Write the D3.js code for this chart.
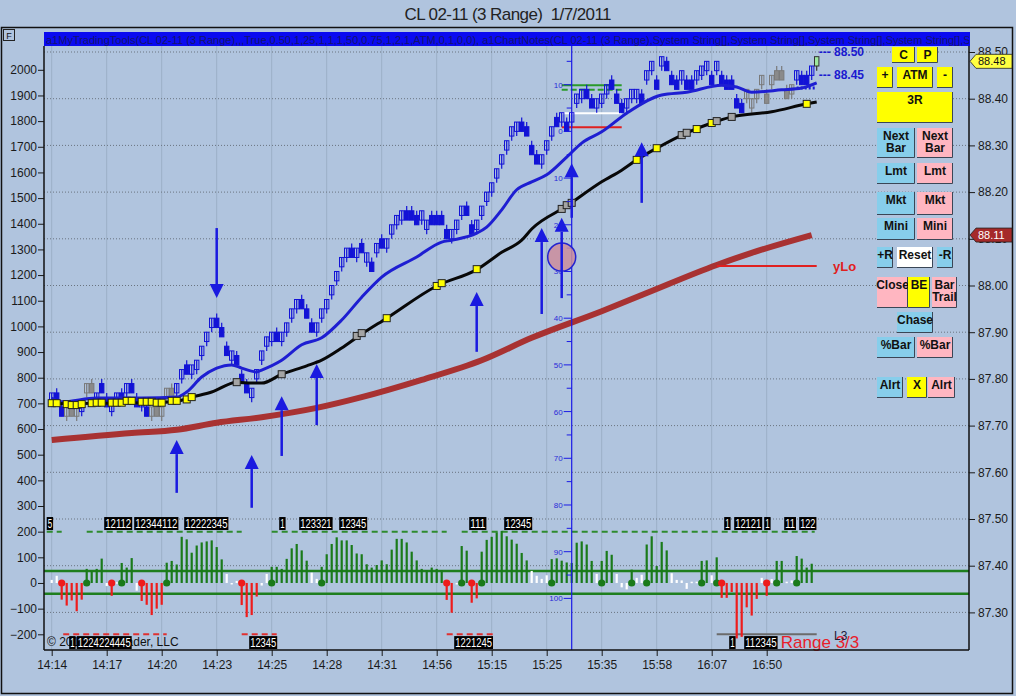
<!DOCTYPE html>
<html>
<head>
<meta charset="utf-8">
<script src="https://d3js.org/d3.v7.min.js"></script>
<style>
  body { margin: 0; background: #b0c4de; overflow: hidden; }
  svg { display: block; font-family: "Liberation Sans", Arial, sans-serif; }
</style>
</head>
<body>
<svg id="chart"></svg>
<script>
// ---- data ----
const timeLabels = ["14:14","14:17","14:20","14:23","14:25","14:28","14:31","14:56","15:15","15:25","15:35","15:58","16:07","16:50"];
const tickBars = [0,11,22,33,44,55,66,77,88,99,110,121,132,143];

// 3 range bars: high of each bar (low = high - 0.03)
const barHigh = [
  87.77,87.78,87.75,87.74,87.75,87.74,87.75,87.79,87.80,87.77,
  87.80,87.77,87.75,87.77,87.78,87.79,87.80,87.77,87.76,87.75,
  87.74,87.75,87.74,87.78,87.79,87.79,87.82,87.84,87.83,87.84,
  87.87,87.90,87.93,87.94,87.92,87.88,87.86,87.86,87.82,87.80,
  87.78,87.82,87.86,87.89,87.90,87.91,87.90,87.92,87.95,87.97,
  87.98,87.96,87.93,87.92,87.95,87.97,88.00,88.03,88.06,88.08,
  88.09,88.08,88.10,88.07,88.06,88.09,88.11,88.10,88.13,88.15,
  88.16,88.17,88.17,88.16,88.16,88.14,88.16,88.16,88.16,88.13,
  88.12,88.14,88.17,88.18,88.14,88.14,88.17,88.20,88.22,88.25,
  88.28,88.31,88.34,88.35,88.36,88.35,88.31,88.29,88.28,88.31,
  88.34,88.37,88.37,88.36,88.37,88.41,88.42,88.43,88.41,88.40,
  88.41,88.43,88.45,88.42,88.40,88.40,88.42,88.42,88.42,88.46,
  88.48,88.45,88.49,88.49,88.46,88.45,88.46,88.45,88.45,88.46,
  88.47,88.48,88.46,88.48,88.46,88.45,88.45,88.41,88.40,88.42,
  88.40,88.42,88.45,88.42,88.45,88.47,88.47,88.43,88.43,88.46,
  88.46,88.46,88.47,88.49
];
// u = up (hollow), d = down (filled), ten bars per chunk
const barDirection =
  "udduduuudu" + "dduududdud" + "uduuduuduu" + "uuuddduddd" + "uuuuuduuuu" +
  "ddduuuuuuu" + "dudududuuu" + "uddduudddd" + "uuudduuuuu" + "uuuudddduu" +
  "ududuuuddu" + "uuddduuudu" + "ududdduddu" + "uudu" + "dddddu" + "uuududdduu" + "dduu";
const grayBars = [3,4,5,7,8,20,21,22,23,24,139,140,141,142,143,144,145,146,147,148];
const lastPrice = 88.48;

// oscillator histogram (left scale) and its colour per bar: g green, r red, w white
const oscValues = [
  12,28,-65,-88,-68,-110,-65,55,45,55,
  95,-12,-50,3,78,60,97,-30,-70,-85,
  -125,-100,-85,79,86,72,180,170,118,146,
  158,162,166,140,92,35,0,8,-86,-133,
  -125,-53,-10,35,63,63,55,94,135,152,
  127,87,40,16,63,112,152,178,166,166,
  148,115,112,73,60,70,88,73,130,172,
  172,158,122,88,55,50,60,55,50,-66,
  -116,-5,144,126,-77,-60,122,168,180,197,
  203,182,169,153,117,88,47,28,16,30,
  93,96,87,80,78,157,162,150,86,35,
  86,125,110,35,-17,-25,52,20,32,150,
  182,66,160,127,38,12,10,-23,5,5,
  86,88,30,100,-58,-58,-35,-216,-210,-95,
  -127,-62,20,-50,15,86,86,5,10,105,
  95,60,75
];
const oscColors =
  "wwrrrrrggg" + "gwrwgggwrr" + "rrrggggggg" + "gggggwwwrr" + "rrwwgggggg" +
  "ggwwgggggg" + "gggggggggg" + "gggggggggr" + "rwggrrgggg" + "ggggggwwww" +
  "gggggggggw" + "gggwwwgwwg" + "ggggwwwwww" + "ggwgrrrrrr" + "rrwrwggwwg" + "ggg";
const oscBands = [47, -42];

// moving averages: [bar, price]
const blueMA = [[0,87.759],[2,87.751],[9,87.759],[18,87.759],[25,87.761],[27,87.772],[30,87.804],[33,87.823],[36,87.830],[38,87.823],[41,87.815],[42,87.819],[46,87.840],[50,87.873],[54,87.888],[58,87.926],[62,87.975],[66,88.018],[73,88.061],[78,88.093],[80,88.097],[85,88.112],[87,88.125],[90,88.162],[93,88.205],[96,88.222],[99,88.237],[103,88.275],[106,88.305],[110,88.329],[115,88.369],[122,88.408],[127,88.414],[134,88.429],[137,88.425],[140,88.414],[146,88.419],[150,88.423],[153,88.434]];
const blackMA = [[0,87.747],[10,87.748],[20,87.749],[25,87.752],[28,87.761],[32,87.772],[37,87.793],[40,87.791],[42,87.791],[46,87.810],[51,87.828],[54,87.840],[58,87.866],[62,87.896],[67,87.930],[77,87.999],[85,88.034],[90,88.071],[94,88.097],[96,88.121],[103,88.170],[110,88.222],[114,88.247],[117,88.269],[121,88.294],[127,88.327],[132,88.348],[136,88.361],[144,88.372],[151,88.389],[153,88.393]];
const redMA = [[0,87.669],[16,87.684],[25,87.691],[33,87.706],[42,87.718],[53,87.738],[62,87.761],[74,87.798],[86,87.840],[96,87.888],[110,87.945],[119,87.984],[133,88.044],[140,88.070],[152,88.108]];
const maMarks = [[0,87.748,"y"],[1,87.748,"y"],[3,87.746,"y"],[4,87.744,"y"],[5,87.744,"y"],[6,87.746,"y"],[8,87.748,"y"],[9,87.749,"y"],[10,87.749,"y"],[12,87.749,"y"],[13,87.749,"y"],[14,87.749,"y"],[15,87.753,"y"],[16,87.753,"y"],[18,87.751,"y"],[19,87.751,"y"],[20,87.751,"y"],[21,87.749,"y"],[22,87.749,"y"],[24,87.753,"y"],[25,87.753,"y"],[27,87.756,"y"],[28,87.761,"y"],[37,87.793,"g"],[46,87.810,"g"],[61,87.892,"g"],[62,87.898,"g"],[67,87.930,"y"],[77,87.999,"y"],[78,88.005,"y"],[85,88.035,"y"],[102,88.164,"g"],[103,88.172,"g"],[104,88.177,"g"],[117,88.269,"y"],[121,88.294,"y"],[126,88.322,"g"],[127,88.327,"g"],[129,88.335,"y"],[132,88.348,"y"],[133,88.352,"g"],[136,88.361,"g"],[151,88.389,"y"]];

// signal arrows: [bar, tail price, tip price]
const arrows = [[33,88.123,87.973],[25,87.556,87.669],[40,87.524,87.637],[46,87.635,87.763],[53,87.701,87.832],[85,87.858,87.986],[98,87.939,88.123],[102,87.973,88.145],[104,88.145,88.262],[118,88.177,88.307]];
const circleMark = [102, 88.061];
const cursorBar = 104;

// horizontal note lines: [price, fromBar, toBar, colour, dashed]
const noteLines = [[88.429,102,114,"#2a9a2a",false],[88.419,102,114,"#2a9a2a",true],[88.369,102,114,"#ffffff",false],[88.339,102,114,"#e02020",false],[88.042,133,153,"#e02020",false]];
const priceNotes = [[88.50,"--- 88.50"],[88.45,"--- 88.45"]];

// ruler drawn on the cursor line
const rulerMajor = [88.43,88.33,88.23,88.13,88.03,87.93,87.83,87.73,87.63,87.53,87.43,87.33];
const rulerLabels = ["10","0","10","20","30","40","50","60","70","80","90","100"];

// dashed count levels in the oscillator: [value, fromBar, toBar, colour]
const countLines = [[200,-1,2,"#2e8b2e"],[200,7,38,"#2e8b2e"],[200,44,79,"#2e8b2e"],[200,82,152.6,"#2e8b2e"],[-200,2.3,23,"#e03030"],[-200,38,45,"#e03030"],[-200,79,89,"#e03030"]];
const topCounts = [[-1,"5"],[10.5,"12112"],[16.5,"12344112"],[26.5,"12222345"],[45.5,"1"],[49.5,"123321"],[57.5,"12345"],[83.5,"111"],[90.5,"12345"],[134.5,"1"],[136.5,"12121"],[142.5,"1"],[146.5,"11"],[149.5,"122"]];
const bottomCounts = [[3.5,"1"],[5,"1224224445"],[39.5,"12345"],[80.5,"1221245"],[135.5,"1"],[138.5,"112345"]];

// ---- setup ----
const W = 1016, H = 696;
const plot = { left: 44, right: 969, top: 46, bottom: 650 };
const RANGE = 0.03, TICK = 0.01;

const svg = d3.select("#chart").attr("width", W).attr("height", H);

const x = d3.scaleLinear().domain([0, 153]).range([51.7, 816.7]);
const yPrice = d3.scaleLinear().domain([87.30, 88.50]).range([612.4, 52]);
const yLeft = d3.scaleLinear().domain([-200, 2000]).range([634.3, 69.8]);

svg.append("rect").attr("width", W).attr("height", H).attr("fill", "#b0c4de");

// title
svg.append("text").attr("x", 508).attr("y", 20).attr("text-anchor", "middle")
  .attr("font-size", 17).attr("fill", "#222").attr("textLength", 207)
  .style("white-space", "pre")
  .text("CL 02-11 (3 Range)  1/7/2011");

// outer frame
svg.append("rect").attr("x", 1.5).attr("y", 27.5).attr("width", 1011).attr("height", 666)
  .attr("fill", "none").attr("stroke", "#111").attr("stroke-width", 1.5);
svg.append("rect").attr("x", 3.5).attr("y", 29.5).attr("width", 11).attr("height", 11)
  .attr("fill", "none").attr("stroke", "#222");
svg.append("text").attr("x", 9).attr("y", 38.5).attr("text-anchor", "middle")
  .attr("font-size", 9).attr("fill", "#111").text("F");

const defs = svg.append("defs");
defs.append("clipPath").attr("id", "clip")
  .append("rect").attr("x", plot.left).attr("y", plot.top)
  .attr("width", plot.right - plot.left).attr("height", plot.bottom - plot.top);
defs.append("clipPath").attr("id", "clip2")
  .append("rect").attr("x", plot.left).attr("y", 30).attr("width", plot.right - plot.left).attr("height", 18);

const chart = svg.append("g").attr("clip-path", "url(#clip)");

// grid
chart.selectAll(".vgrid").data(tickBars).join("line")
  .attr("x1", d => x(d)).attr("x2", d => x(d))
  .attr("y1", plot.top).attr("y2", plot.bottom)
  .attr("stroke", "#9cafc7").attr("stroke-width", 1);
chart.selectAll(".hgrid").data(d3.range(0, 13).map(k => 88.50 - k * 0.1)).join("line")
  .attr("x1", plot.left).attr("x2", plot.right)
  .attr("y1", d => yPrice(d)).attr("y2", d => yPrice(d))
  .attr("stroke", "#6a7480").attr("stroke-dasharray", "1,2");

// header bar with indicator names (cut at the right edge like the original)
svg.append("rect").attr("x", plot.left).attr("y", 32).attr("width", plot.right - plot.left + 1).attr("height", 14)
  .attr("fill", "#0a0af0");
svg.append("g").attr("clip-path", "url(#clip2)")
  .append("text").attr("x", 46).attr("y", 43.5).attr("font-size", 11).attr("fill", "#14146e")
  .text("a1MyTradingTools(CL 02-11 (3 Range),,,True,0.50,1,25,1,1,1,50,0.75,1,2,1,ATM,0,1,0,0),  a1ChartNotes(CL 02-11 (3 Range),System String[],System String[],System String[],System String[],Sy");

// ---- oscillator ----
const oscColor = { g: "#1a7a1a", r: "#ee1c1c", w: "#ffffff" };
chart.selectAll(".band").data(oscBands).join("line")
  .attr("x1", plot.left).attr("x2", plot.right)
  .attr("y1", d => yLeft(d)).attr("y2", d => yLeft(d))
  .attr("stroke", "#1e7e1e").attr("stroke-width", 2.5);

chart.selectAll(".count").data(countLines).join("line")
  .attr("x1", d => x(d[1])).attr("x2", d => x(d[2]))
  .attr("y1", d => yLeft(d[0])).attr("y2", d => yLeft(d[0]))
  .attr("stroke", d => d[3]).attr("stroke-width", 2).attr("stroke-dasharray", "6,4");
chart.append("line").attr("x1", x(133)).attr("x2", x(153))
  .attr("y1", yLeft(-200)).attr("y2", yLeft(-200)).attr("stroke", "#6b6b6b").attr("stroke-width", 2);

chart.selectAll(".hist").data(oscValues).join("rect")
  .attr("x", (d, i) => x(i) - 1.1).attr("width", 2.2)
  .attr("y", d => Math.min(yLeft(d), yLeft(0)))
  .attr("height", d => Math.max(1.5, Math.abs(yLeft(d) - yLeft(0))))
  .attr("fill", (d, i) => oscColor[oscColors[i]]);

// dot on the first bar of every red / green run
const dots = oscValues.map((d, i) => i).filter(i => oscColors[i] !== "w" && oscColors[i] !== oscColors[i - 1]);
chart.selectAll(".dot").data(dots).join("circle")
  .attr("cx", d => x(d)).attr("cy", yLeft(0)).attr("r", 3.6)
  .attr("fill", d => oscColors[d] === "g" ? "#1a7a1a" : "#ee1c1c");

// texts that sit under the count boxes
svg.append("text").attr("x", 47).attr("y", 646).attr("font-size", 12).attr("fill", "#111")
  .text("\u00a9 2011 NinjaTrader, LLC");
svg.append("text").attr("x", 755).attr("y", 648).attr("font-size", 17).attr("fill", "#e8202a")
  .text("CL Range 3/3");
svg.append("text").attr("x", 834).attr("y", 640).attr("font-size", 12).attr("fill", "#1a1a3a").text("L3");

function countBoxes(data, topVal) {
  const g = svg.append("g");
  const items = g.selectAll("g").data(data).join("g")
    .attr("transform", d => `translate(${x(d[0])},${yLeft(topVal)})`);
  items.append("rect").attr("width", d => d[1].length * 5.4 + 1).attr("height", 13).attr("fill", "#000");
  items.append("text").attr("x", 1).attr("y", 11).attr("font-size", 12).attr("fill", "#fff")
    .attr("textLength", d => d[1].length * 5.4 - 1).attr("lengthAdjust", "spacingAndGlyphs")
    .text(d => d[1]);
}
countBoxes(topCounts, 257);
countBoxes(bottomCounts, -207);

// ---- price panel ----
const maLine = d3.line().x(d => x(d[0])).y(d => yPrice(d[1])).curve(d3.curveMonotoneX);
chart.append("path").datum(redMA).attr("d", maLine).attr("fill", "none")
  .attr("stroke", "#a83232").attr("stroke-width", 6);

// note lines
chart.selectAll(".note").data(noteLines).join("line")
  .attr("x1", d => x(d[1])).attr("x2", d => x(d[2]))
  .attr("y1", d => yPrice(d[0])).attr("y2", d => yPrice(d[0]))
  .attr("stroke", d => d[3]).attr("stroke-width", 2)
  .attr("stroke-dasharray", d => d[4] ? "6,3" : null);

// candles
const candles = chart.selectAll(".candle").data(barHigh).join("g");
candles.each(function (h, i) {
  const g = d3.select(this);
  const up = barDirection[i] === "u";
  const lo = h - RANGE;
  const open = up ? lo + TICK : h - TICK;
  const close = up ? h : lo;
  const gray = grayBars.includes(i);
  const last = i === barHigh.length - 1;
  const stroke = last ? "#333" : gray ? "#7a7a7a" : "#1212d6";
  const fill = last ? "#9ee89e" : up ? "none" : gray ? "#8a8a8a" : "#1212d6";
  g.append("line").attr("x1", x(i)).attr("x2", x(i))
    .attr("y1", yPrice(h)).attr("y2", yPrice(lo)).attr("stroke", stroke).attr("stroke-width", 1.2);
  g.append("rect").attr("x", x(i) - 2.2).attr("width", 4.4)
    .attr("y", yPrice(Math.max(open, close))).attr("height", Math.abs(yPrice(open) - yPrice(close)))
    .attr("fill", fill).attr("stroke", stroke).attr("stroke-width", 1);
});

chart.append("line").attr("x1", x(149)).attr("x2", x(153))
  .attr("y1", yPrice(88.423)).attr("y2", yPrice(88.423))
  .attr("stroke", "#1a1ad8").attr("stroke-width", 3).attr("stroke-dasharray", "2,2");

chart.append("path").datum(blueMA).attr("d", maLine).attr("fill", "none")
  .attr("stroke", "#1e1ed2").attr("stroke-width", 3);
chart.append("path").datum(blackMA).attr("d", maLine).attr("fill", "none")
  .attr("stroke", "#080808").attr("stroke-width", 3);

chart.selectAll(".mark").data(maMarks).join("rect")
  .attr("x", d => x(d[0]) - 3.5).attr("y", d => yPrice(d[1]) - 3.5)
  .attr("width", 7).attr("height", 7)
  .attr("fill", d => d[2] === "y" ? "#ffff00" : "#a4a4a4").attr("stroke", "#222").attr("stroke-width", 1);

// cursor line + ruler
const cx = x(cursorBar);
chart.append("line").attr("x1", cx).attr("x2", cx).attr("y1", plot.top).attr("y2", plot.bottom)
  .attr("stroke", "#1a1ae6").attr("stroke-width", 1.2);
chart.selectAll(".rmaj").data(rulerMajor).join("line")
  .attr("x1", cx - 8).attr("x2", cx).attr("y1", d => yPrice(d)).attr("y2", d => yPrice(d))
  .attr("stroke", "#1a1ae6");
chart.selectAll(".rmin").data(rulerMajor.map(d => d + 0.05)).join("line")
  .attr("x1", cx - 5).attr("x2", cx).attr("y1", d => yPrice(d)).attr("y2", d => yPrice(d))
  .attr("stroke", "#1a1ae6");
chart.selectAll(".rlab").data(rulerMajor).join("text")
  .attr("x", cx - 9).attr("y", d => yPrice(d) + 3).attr("text-anchor", "end")
  .attr("font-size", 8).attr("fill", "#2a2ad8").text((d, i) => rulerLabels[i]);

// circle
chart.append("circle").attr("cx", x(circleMark[0])).attr("cy", yPrice(circleMark[1])).attr("r", 14)
  .attr("fill", "#cc8d9c").attr("fill-opacity", 0.85).attr("stroke", "#2323d0").attr("stroke-width", 1.5);

// arrows
const arrowG = chart.selectAll(".arrow").data(arrows).join("g").attr("fill", "#1a1ae0").attr("stroke", "#1a1ae0");
arrowG.each(function (d) {
  const g = d3.select(this);
  const ax = x(d[0]);
  const tail = yPrice(d[1]), tip = yPrice(d[2]);
  const dir = tip < tail ? 1 : -1;
  const base = tip + dir * 14;
  g.append("line").attr("x1", ax).attr("x2", ax).attr("y1", tail).attr("y2", base).attr("stroke-width", 2.5);
  g.append("path").attr("stroke", "none")
    .attr("d", `M${ax},${tip}L${ax - 7},${base}L${ax + 7},${base}Z`);
});

// price notes and yLo
svg.selectAll(".pnote").data(priceNotes).join("text")
  .attr("x", x(153) + 2).attr("y", d => yPrice(d[0]) + 4)
  .attr("font-size", 12).attr("font-weight", "bold").attr("fill", "#1a1ad0").text(d => d[1]);
svg.append("text").attr("x", 833).attr("y", yPrice(88.042) + 5).attr("font-size", 13)
  .attr("font-weight", "bold").attr("fill", "#e02020").text("yLo");

// ---- axes ----
const leftAxis = svg.append("g").attr("transform", `translate(${plot.left},0)`)
  .call(d3.axisLeft(yLeft).tickValues(d3.range(-200, 2001, 100)).tickFormat(d3.format("d"))
    .tickSize(6).tickSizeOuter(0));
const rightAxis = svg.append("g").attr("transform", `translate(${plot.right},0)`)
  .call(d3.axisRight(yPrice).tickValues(d3.range(0, 13).map(k => 87.30 + k * 0.1))
    .tickFormat(d3.format(".2f")).tickSize(6).tickSizeOuter(0));
const bottomAxis = svg.append("g").attr("transform", `translate(0,${plot.bottom})`)
  .call(d3.axisBottom(x).tickValues(tickBars).tickFormat((d, i) => timeLabels[i]).tickSize(6).tickSizeOuter(0));
[leftAxis, rightAxis, bottomAxis].forEach(a => {
  a.select(".domain").remove();
  a.selectAll("text").attr("font-size", 12).attr("fill", "#1a1a1a").attr("font-family", "'Liberation Sans', Arial, sans-serif");
  a.selectAll("line").attr("stroke", "#1a1a1a");
});
leftAxis.selectAll("text").attr("x", -7);
bottomAxis.selectAll("text").attr("y", 10);
svg.append("line").attr("x1", plot.left).attr("x2", plot.left).attr("y1", plot.top).attr("y2", plot.bottom).attr("stroke", "#111").attr("stroke-width", 1.5);
svg.append("line").attr("x1", plot.right).attr("x2", plot.right).attr("y1", plot.top).attr("y2", plot.bottom).attr("stroke", "#111").attr("stroke-width", 1.5);
svg.append("line").attr("x1", plot.left).attr("x2", plot.right).attr("y1", plot.bottom).attr("y2", plot.bottom).attr("stroke", "#111").attr("stroke-width", 1.5);

// price tags on the right axis
function tag(price, fill, color) {
  const ty = yPrice(price);
  svg.append("path").attr("d", `M${plot.right + 1},${ty}L${plot.right + 7},${ty - 7}H${plot.right + 43}V${ty + 7}H${plot.right + 7}Z`)
    .attr("fill", fill).attr("stroke", "#222").attr("stroke-width", 0.8);
  svg.append("text").attr("x", plot.right + 9).attr("y", ty + 4).attr("font-size", 11).attr("fill", color)
    .text(d3.format(".2f")(price));
}
tag(lastPrice, "#ffff40", "#111");
tag(redMA[redMA.length - 1][1], "#a52a2a", "#fff");

// ---- trade buttons ----
const BL = "#87ceeb", PK = "#ffb6c1", YE = "#ffff00";
const buttons = [
  ["C", 892, 47, 23, 16, YE], ["P", 917, 47, 21, 16, YE],
  ["+", 877, 67, 16, 21, YE], ["ATM", 897, 67, 36, 21, YE], ["-", 937, 67, 16, 21, YE],
  ["3R", 877, 92, 76, 31, YE],
  ["Next|Bar", 877, 128, 38, 30, BL], ["Next|Bar", 917, 128, 36, 30, PK],
  ["Lmt", 877, 163, 38, 21, BL], ["Lmt", 917, 163, 36, 21, PK],
  ["Mkt", 877, 192, 38, 23, BL], ["Mkt", 917, 192, 36, 23, PK],
  ["Mini", 877, 218, 38, 22, BL], ["Mini", 917, 218, 36, 22, PK],
  ["+R", 877, 247, 16, 21, BL], ["Reset", 897, 247, 36, 21, "#ffffff"], ["-R", 937, 247, 16, 21, BL],
  ["Close", 877, 277, 31, 31, PK], ["BE", 908, 277, 22, 31, YE], ["Bar|Trail", 932, 277, 25, 31, PK],
  ["Chase", 897, 312, 36, 21, BL],
  ["%Bar", 877, 337, 38, 21, BL], ["%Bar", 917, 337, 36, 21, PK],
  ["Alrt", 877, 377, 26, 21, BL], ["X", 907, 377, 20, 21, YE], ["Alrt", 928, 377, 27, 21, PK]
];
const btn = svg.selectAll(".btn").data(buttons).join("g")
  .attr("transform", d => `translate(${d[1]},${d[2]})`);
btn.append("rect").attr("width", d => d[3]).attr("height", d => d[4]).attr("fill", d => d[5]);
btn.append("path").attr("d", d => `M0,${d[4] - 0.5}H${d[3] - 0.5}V0`)
  .attr("fill", "none").attr("stroke", "#3a4656").attr("stroke-width", 1);
btn.each(function (d) {
  const lines = d[0].split("|");
  d3.select(this).selectAll("text").data(lines).join("text")
    .attr("x", d[3] / 2).attr("y", (t, k) => 12 + k * 12)
    .attr("text-anchor", "middle").attr("font-size", 12).attr("font-weight", "bold").attr("fill", "#111")
    .text(t => t);
});
</script>
</body>
</html>
